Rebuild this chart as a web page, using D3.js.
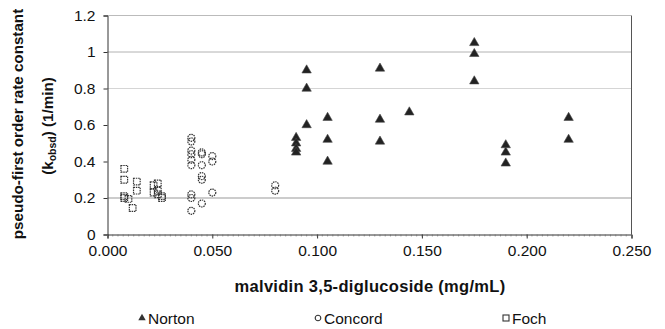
<!DOCTYPE html>
<html><head><meta charset="utf-8">
<script src="https://cdn.jsdelivr.net/npm/d3@7"></script>
<style>body{margin:0;background:#fff}svg{display:block}</style>
</head><body><svg id="c" width="665" height="329"></svg>
<script>
const yTicks = [0, 0.2, 0.4, 0.6, 0.8, 1, 1.2];
const yTickLabels = ["0", "0.2", "0.4", "0.6", "0.8", "1", "1.2"];
const xTicks = [0, 0.05, 0.1, 0.15, 0.2, 0.25];
const xTickLabels = ["0.000", "0.050", "0.100", "0.150", "0.200", "0.250"];
const gridValues = [0.2, 0.8, 1.0];
const seriesNames = ["Norton", "Concord", "Foch"];

const nortonX = [0.090,0.090,0.090,0.090, 0.095,0.095,0.095, 0.105,0.105,0.105, 0.130,0.130,0.130, 0.144, 0.175,0.175,0.175, 0.190,0.190,0.190, 0.220,0.220];
const nortonY = [0.53,0.50,0.47,0.45, 0.90,0.80,0.60, 0.64,0.52,0.40, 0.91,0.63,0.51, 0.67, 1.05,0.99,0.84, 0.49,0.45,0.39, 0.64,0.52];

const concordX = [0.040,0.040,0.040,0.040,0.040,0.040,0.040,0.040,0.040, 0.045,0.045,0.045,0.045,0.045,0.045, 0.050,0.050,0.050, 0.080,0.080];
const concordY = [0.53,0.51,0.46,0.44,0.41,0.38,0.22,0.20,0.13, 0.45,0.44,0.38,0.32,0.30,0.17, 0.43,0.40,0.23, 0.27,0.24];

const fochX = [0.008,0.008,0.008,0.008,0.010,0.012,0.014,0.014, 0.022,0.022,0.024,0.024,0.024,0.026,0.026];
const fochY = [0.36,0.30,0.21,0.20,0.195,0.145,0.29,0.24, 0.27,0.23,0.28,0.24,0.22,0.21,0.20];

const svg = d3.select("#c");
const L = 107.5, R = 631.5, T = 15.5, B = 234.5;
const x = d3.scaleLinear().domain([0, 0.25]).range([L, R]);
const y = d3.scaleLinear().domain([0, 1.2]).range([B, T]);
const font = "'Liberation Sans', Arial, sans-serif";

// grid
svg.append("g").selectAll("line").data(gridValues).join("line")
  .attr("x1", L).attr("x2", R).attr("y1", d => y(d)).attr("y2", d => y(d))
  .attr("stroke", (d,i) => i === 0 ? "#999" : (i === 1 ? "#aaa" : "#666"))
  .attr("stroke-width", 1)
  .attr("stroke-dasharray", (d,i) => i === 0 ? null : "1,1");

// border top/right
svg.append("line").attr("x1", L).attr("x2", R).attr("y1", T).attr("y2", T).attr("stroke", "#777").attr("stroke-dasharray","1,1");
svg.append("line").attr("x1", R).attr("x2", R).attr("y1", T).attr("y2", B).attr("stroke", "#555");

// axes
const yAxis = d3.axisLeft(y).tickValues(yTicks).tickFormat((d,i) => yTickLabels[i]).tickSize(4).tickPadding(8);
const gy = svg.append("g").attr("transform", `translate(${L},0)`).call(yAxis);
gy.select(".domain").attr("stroke", "#333");
gy.selectAll(".tick line").attr("stroke", "#333");
gy.selectAll("text").attr("font-family", font).attr("font-size", 15.5).attr("fill", "#111");

const xAxis = d3.axisBottom(x).tickValues(xTicks).tickFormat((d,i) => xTickLabels[i]).tickSize(4).tickPadding(6);
const gx = svg.append("g").attr("transform", `translate(0,${B})`).call(xAxis);
gx.select(".domain").attr("stroke", "#333");
gx.selectAll(".tick line").attr("stroke", "#333");
gx.selectAll("text").attr("font-family", font).attr("font-size", 15.5).attr("fill", "#111");
// minor ticks
const minor = d3.range(0, 0.2501, 0.0025);
svg.append("g").selectAll("line").data(minor).join("line")
  .attr("x1", d => x(d)).attr("x2", d => x(d)).attr("y1", B).attr("y2", B + 2)
  .attr("stroke", "#666").attr("stroke-width", 0.6);

// markers
const tri = d3.symbol().type(d3.symbolTriangle).size(38);
const points = (xs, ys) => xs.map((v, i) => [v, ys[i]]);

svg.append("g").selectAll("path").data(points(fochX, fochY)).join("path")
  .attr("d", d3.symbol().type(d3.symbolSquare).size(44))
  .attr("transform", d => `translate(${x(d[0])},${y(d[1])})`)
  .attr("fill", "none").attr("stroke", "#333").attr("stroke-width", 1.2).attr("stroke-dasharray", "1.5,0.8");

svg.append("g").selectAll("circle").data(points(concordX, concordY)).join("circle")
  .attr("cx", d => x(d[0])).attr("cy", d => y(d[1])).attr("r", 3.5)
  .attr("fill", "none").attr("stroke", "#333").attr("stroke-width", 1.2).attr("stroke-dasharray", "1.5,0.8");

svg.append("g").selectAll("path").data(points(nortonX, nortonY)).join("path")
  .attr("d", tri)
  .attr("transform", d => `translate(${x(d[0])},${y(d[1])})`)
  .attr("fill", "#222").attr("stroke", "#444").attr("stroke-width", 0.6);

// axis titles
svg.append("text").attr("x", 370).attr("y", 292)
  .attr("text-anchor", "middle").attr("font-family", font).attr("font-weight", "bold").attr("font-size", 16.5)
  .attr("letter-spacing", 0.3)
  .attr("fill", "#111").text("malvidin 3,5-diglucoside (mg/mL)");

svg.append("text").attr("transform", `translate(23,124) rotate(-90)`)
  .attr("text-anchor", "middle").attr("font-family", font).attr("font-weight", "bold").attr("font-size", 15.2)
  .attr("fill", "#111").text("pseudo-first order rate constant");

const t2 = svg.append("text").attr("transform", `translate(53,126) rotate(-90)`)
  .attr("text-anchor", "middle").attr("font-family", font).attr("font-weight", "bold").attr("font-size", 15.2)
  .attr("fill", "#111");
t2.append("tspan").text("(k");
t2.append("tspan").attr("font-size", 10.5).attr("dy", 3).text("obsd");
t2.append("tspan").attr("dy", -3).text(") (1/min)");

// legend
const legendX = [142, 318, 506];
const lg = svg.append("g").selectAll("g").data(seriesNames).join("g")
  .attr("transform", (d,i) => `translate(${legendX[i]},318)`);
lg.each(function(d, i) {
  const g = d3.select(this);
  if (i === 0) g.append("path").attr("d", d3.symbol().type(d3.symbolTriangle).size(24)).attr("fill", "#333");
  if (i === 1) g.append("circle").attr("r", 2.8).attr("fill", "none").attr("stroke", "#333").attr("stroke-width", 1.1);
  if (i === 2) g.append("rect").attr("x", -3).attr("y", -3).attr("width", 6).attr("height", 6).attr("fill", "none").attr("stroke", "#333").attr("stroke-width", 1.1);
  g.append("text").attr("x", 6).attr("y", 5.5).attr("font-family", font).attr("font-size", 15.5).attr("fill", "#111").text(d);
});
</script></body></html>
